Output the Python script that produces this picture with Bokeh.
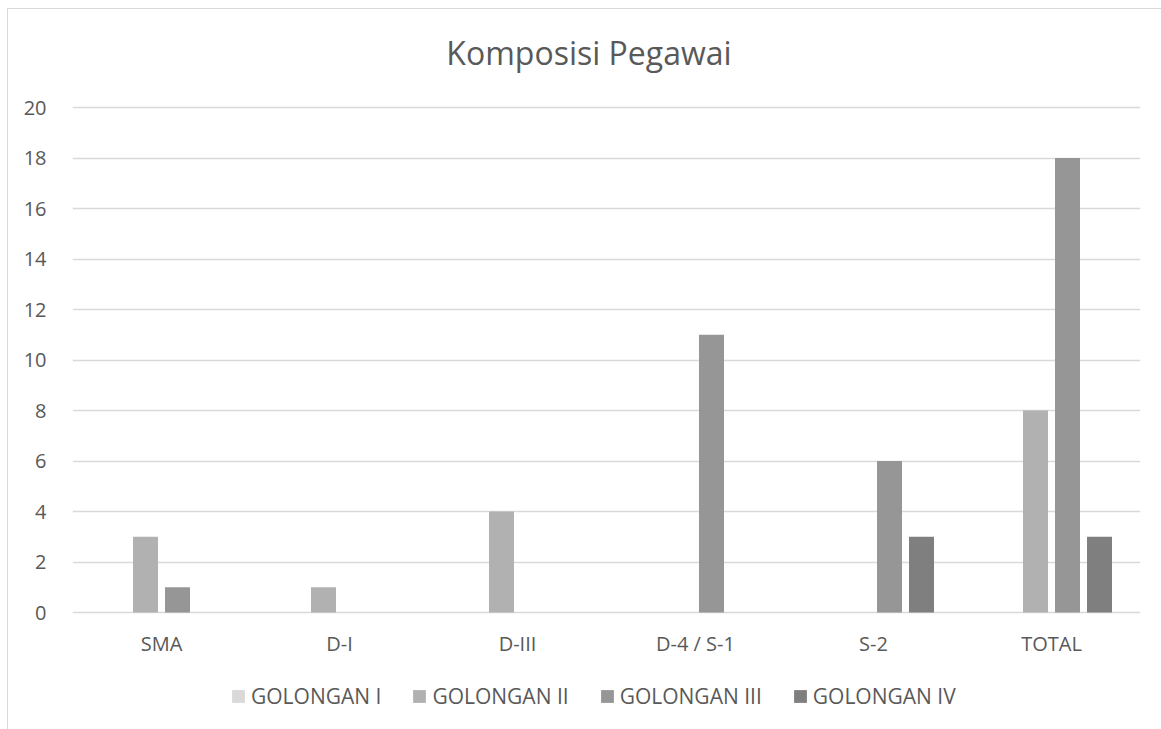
from bokeh.plotting import figure
from bokeh.models import (ColumnDataSource, FactorRange, Range1d, FixedTicker, Legend,
                          LegendItem, Label)
from bokeh.transform import dodge
from bokeh.embed import file_html
from bokeh.resources import INLINE

# ---- data ----
categories = ["SMA", "D-I", "D-III", "D-4 / S-1", "S-2", "TOTAL"]
series_names = ["GOLONGAN I", "GOLONGAN II", "GOLONGAN III", "GOLONGAN IV"]
golongan_i = [0, 0, 0, 0, 0, 0]
golongan_ii = [3, 1, 4, 0, 0, 8]
golongan_iii = [1, 0, 0, 11, 6, 18]
golongan_iv = [0, 0, 0, 0, 3, 3]
y_ticks = [0, 2, 4, 6, 8, 10, 12, 14, 16, 18, 20]
title_text = "Komposisi Pegawai"

# ---- style / layout (pixels) ----
FONT = "Open Sans"
TEXT_COLOR = "#595959"
GRID_COLOR = "#d9d9d9"
colors = ["#d9d9d9", "#b1b1b1", "#969696", "#7f7f7f"]
series_values = [golongan_i, golongan_ii, golongan_iii, golongan_iv]

FRAME_W = 1068
PLOT_H = 505            # pixel height of the 0..20 value band
TOP_SPACE = 98          # pixels above the value band (title area)
BOTTOM_SPACE = 117      # pixels below the value band (labels + legend)
px_per_unit = PLOT_H / (y_ticks[-1] - y_ticks[0])
y_end = y_ticks[-1] + TOP_SPACE / px_per_unit
y_start = y_ticks[0] - BOTTOM_SPACE / px_per_unit

p = figure(
    frame_width=FRAME_W, frame_height=TOP_SPACE + PLOT_H + BOTTOM_SPACE,
    x_range=FactorRange(*categories, range_padding=0),
    y_range=Range1d(y_start, y_end),
    output_backend="svg", toolbar_location=None,
    min_border_left=64, min_border_right=21, min_border_top=0, min_border_bottom=0,
)
p.styles = {"border-left": "1px solid #d9d9d9", "border-top": "1px solid #d9d9d9",
            "margin-left": "7px", "margin-top": "8px"}
p.outline_line_color = None
p.background_fill_color = "white"
p.border_fill_color = "white"

# title (centred on the whole chart area, 55 px above the top gridline)
title_x = (588.5 - 72) / (FRAME_W / len(categories))
title_y = y_ticks[-1] + 55 / px_per_unit
p.add_layout(Label(x=title_x, y=title_y, text=title_text, text_align="center",
                   text_baseline="middle", text_font=FONT, text_font_size="32px",
                   text_color=TEXT_COLOR))

step = 0.1798
bar_w = 0.1404
offsets = [-1.5 * step, -0.5 * step, 0.5 * step, 1.5 * step]

items = []
for name, vals, col, off in zip(series_names, series_values, colors, offsets):
    src = ColumnDataSource(dict(cat=categories, top=vals))
    r = p.vbar(x=dodge("cat", off, range=p.x_range), top="top", bottom=0, width=bar_w,
               source=src, fill_color=col, line_color=None)
    items.append(LegendItem(label=name, renderers=[r]))

# axes
p.yaxis.ticker = FixedTicker(ticks=y_ticks)
p.yaxis.axis_line_color = None
p.yaxis.major_tick_line_color = None
p.yaxis.minor_tick_line_color = None
p.yaxis.major_label_standoff = 20
p.yaxis.major_label_text_font = FONT
p.yaxis.major_label_text_font_size = "20px"
p.yaxis.major_label_text_color = TEXT_COLOR

p.xaxis.fixed_location = 0
p.xaxis.axis_line_color = None
p.xaxis.major_tick_line_color = None
p.xaxis.minor_tick_line_color = None
p.xaxis.major_label_standoff = 11
p.xaxis.major_label_text_font = FONT
p.xaxis.major_label_text_font_size = "20px"
p.xaxis.major_label_text_color = TEXT_COLOR

p.xgrid.grid_line_color = None
p.ygrid.grid_line_color = GRID_COLOR
p.ygrid.grid_line_width = 1.3
p.ygrid.ticker = FixedTicker(ticks=y_ticks)

legend = Legend(items=items, orientation="horizontal", location=(158, 19),
                glyph_width=16, glyph_height=16, label_standoff=5, spacing=30,
                padding=0, margin=0, border_line_color=None, background_fill_alpha=0,
                label_text_font=FONT, label_text_font_size="21px", label_text_color=TEXT_COLOR)
p.add_layout(legend, "center")

open("out.html", "w").write(file_html(p, INLINE))
